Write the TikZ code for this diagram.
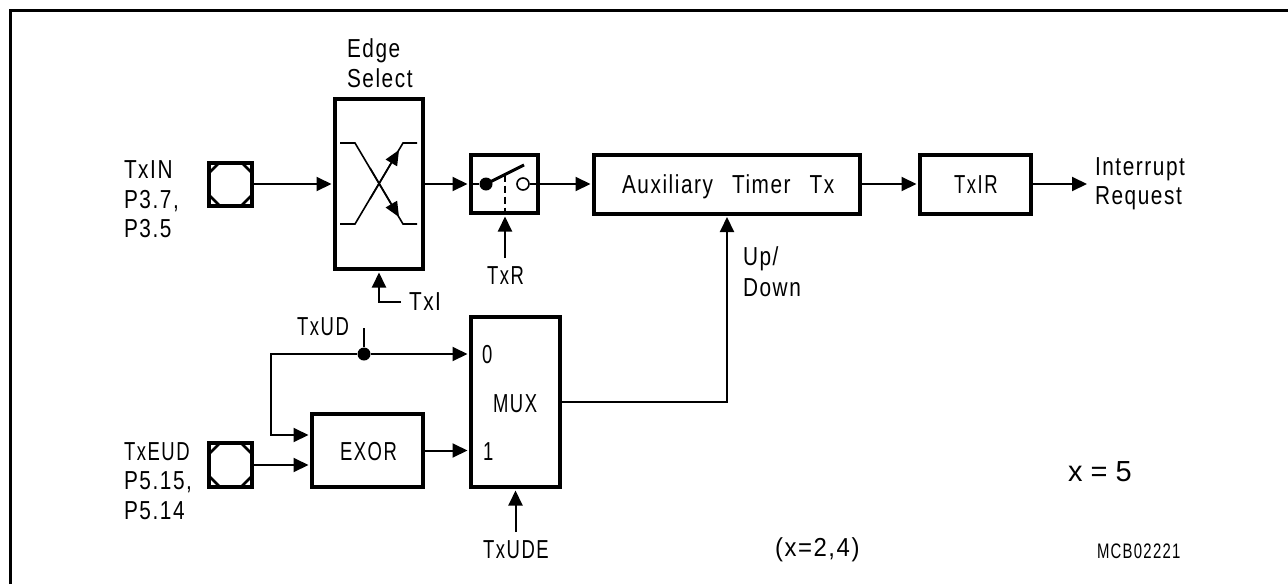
\documentclass[tikz,border=0pt]{standalone}
\usepackage{fontspec}
\usetikzlibrary{arrows.meta}
\newfontfamily\skfont[FakeStretch=0.8,LetterSpace=6]{Liberation Sans}
\newfontfamily\skcaps[FakeStretch=0.71,LetterSpace=6]{Liberation Sans}
\newfontfamily\skwide[FakeStretch=0.92,LetterSpace=6]{Liberation Sans}
\newfontfamily\arialfont{Liberation Sans}
\tikzset{
  blk/.style={draw,line width=4pt,inner sep=0pt,outer sep=2pt},
  padbox/.style={draw,line width=4pt,inner sep=0pt,outer sep=2pt,minimum width=43pt,minimum height=43pt},
  conn/.style={line width=2pt},
  arr/.style={line width=2pt,-{Triangle[length=15pt,width=14pt]},shorten >=1.5pt},
  thinl/.style={line width=1.6pt},
  thinarr/.style={line width=1.6pt,-{Triangle[length=15pt,width=13pt]}},
  lab/.style={anchor=base west,inner sep=0pt,outer sep=0pt,align=left,font=\skfont\fontsize{26}{30}\selectfont},
  capl/.style={lab,font=\skcaps\fontsize{26}{30}\selectfont},
  dotn/.style={circle,fill=black,inner sep=0pt,minimum size=13pt},
  cornercut/.style={line width=2.5pt}
}
\begin{document}
\begin{tikzpicture}[x=1pt,y=-1pt]
\useasboundingbox (0,0) rectangle (1288,584);
\draw[line width=3pt] (10.5,584) -- (10.5,10.5) -- (1288,10.5);
% blocks
\node[padbox] (p1) at (230.5,184) {};
\node[padbox,minimum height=44pt] (p2) at (230.5,465) {};
\node[blk,minimum width=88pt,minimum height=170pt] (edge) at (379,184) {};
\node[blk,minimum width=67pt,minimum height=58pt] (sw) at (504.5,184) {};
\node[blk,minimum width=266pt,minimum height=59pt] (aux) at (727,184) {};
\node[blk,minimum width=111pt,minimum height=59pt] (ir) at (975.5,184) {};
\node[blk,minimum width=89pt,minimum height=170pt] (mux) at (515.5,402) {};
\node[blk,minimum width=111pt,minimum height=73pt] (exor) at (367.5,450.5) {};
% pad corners
\foreach \n in {p1,p2}{
  \draw[cornercut] ([shift={(-21.5,-11)}]\n.center) -- ([shift={(-11,-21.5)}]\n.center);
  \draw[cornercut] ([shift={(21.5,-11)}]\n.center) -- ([shift={(11,-21.5)}]\n.center);
  \draw[cornercut] ([shift={(-21.5,11)}]\n.center) -- ([shift={(-11,21.5)}]\n.center);
  \draw[cornercut] ([shift={(21.5,11)}]\n.center) -- ([shift={(11,21.5)}]\n.center);
}
% edge symbol
\draw[thinl] (340,143) -- (355,143) -- (403,224) -- (417,224);
\draw[thinl] (340,224) -- (355,224) -- (403,143) -- (417,143);
\draw[thinarr] (370,199) -- (399,150);
\draw[thinarr] (370,168) -- (399,217);
% switch
\node[dotn] (swdot) at (486,184) {};
\node[circle,draw,line width=1.6pt,fill=white,inner sep=0pt,minimum size=12pt] (swo) at (523,184) {};
\coordinate (blade) at (524,165);
\coordinate (bladem) at (505,174.5);
\draw[thinl] (sw.west) -- (swdot);
\draw[thinl] (swo) -- (sw.east);
\draw[line width=3pt] (swdot.center) -- (blade);
\draw[line width=1.6pt,dash pattern=on 7pt off 4pt] (bladem) -- (bladem |- sw.south);
% main connectors
\draw[arr] (p1.east) -- (edge.west);
\draw[arr] (edge.east) -- (sw.west);
\draw[arr] (sw.east) -- (aux.west);
\draw[arr] (aux.east) -- (ir.west);
\coordinate (req) at (1087,184);
\draw[arr,shorten >=0pt] (ir.east) -- (req);
\coordinate (txrs) at (505,258);
\draw[arr] (txrs) -- (txrs |- sw.south);
\coordinate (txis) at (401,302);
\coordinate (txib) at (379,302);
\draw[arr] (txis) -- (txib) -- (edge.south);
\draw[arr] (mux.east) -| (aux.south);
\coordinate (udes) at (515.5,532);
\draw[arr] (udes) -- (mux.south);
% TxUD net
\node[dotn] (dot) at (364,354) {};
\coordinate (udtop) at (364,328);
\coordinate (bend) at (271,354);
\draw[conn] (udtop) -- (dot);
\draw[arr] (dot) -- (dot -| mux.west);
\draw[arr] (dot) -- (bend) |- (exor.west |- 0,435);
\draw[arr] (p2.east) -- (p2.east -| exor.west);
\draw[arr] (exor.east) -- (exor.east -| mux.west);
% labels
\node[lab] (tEdge) at (347,57) {Edge};
\node[lab] (tSel) at (347,87) {Select};
\node[lab] (t1) at (124,178) {TxIN};
\node[lab] (t2) at (124,208) {P3.7,};
\node[lab] (t3) at (124,237) {P3.5};
\node[capl] (t4) at (124,460) {TxEUD};
\node[lab] (t5) at (124,489) {P5.15,};
\node[lab] (t6) at (124,519) {P5.14};
\node[capl] (tR) at (487,284) {TxR};
\node[lab] (tI) at (409,310) {TxI};
\node[capl] (tUD) at (297,335) {TxUD};
\node[capl] (t0) at (482,363) {0};
\node[capl] (t1b) at (483,460) {1};
\node[capl] (tMUX) at (493,412) {MUX};
\node[capl] (tEX) at (340,460) {EXOR};
\node[capl] (tUDE) at (483,558) {TxUDE};
\node[lab] (tAux) at (622,193) {Auxiliary\ \ \,Timer\ \ \,Tx};
\node[capl] (tIR) at (954,193) {TxIR};
\node[lab] (tInt) at (1095,175) {Interrupt};
\node[lab] (tReq) at (1095,204) {Request};
\node[lab] (tUp) at (743,265) {Up/};
\node[lab] (tDn) at (743,296) {Down};
\node[lab,font=\skwide\fontsize{26}{30}\selectfont] (tx) at (775,556) {(x=2,4)};
\node[anchor=base west,inner sep=0pt,font=\arialfont\fontsize{29}{32}\selectfont] (tx5) at (1068,481) {x = 5};
\node[lab,font=\skcaps\fontsize{21}{24}\selectfont] (tMCB) at (1097,558) {MCB02221};
\end{tikzpicture}
\end{document}
